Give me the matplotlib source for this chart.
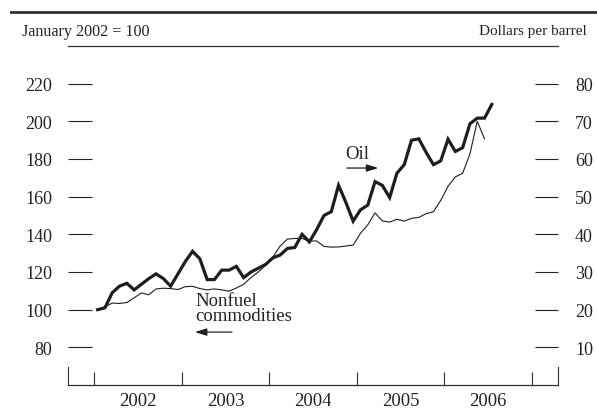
import numpy as np
import matplotlib
matplotlib.use("Agg")
import matplotlib.pyplot as plt
from matplotlib.lines import Line2D

plt.rcParams['font.family'] = ['Liberation Serif', 'DejaVu Serif']

# ---- data (monthly, starting January 2002) ----
start_year = 2002
oil_usd = [20.0, 20.5, 24.5, 26.25, 27.0, 25.25, 26.75, 28.25, 29.5, 28.25,
           26.25, 29.5, 32.75, 35.5, 33.5, 28.0, 28.0, 30.5, 30.5, 31.5,
           28.5, 30.0, 31.0, 32.0, 33.75, 34.5, 36.25, 36.5, 40.0, 38.0,
           41.25, 45.0, 46.0, 53.0, 48.5, 43.5, 46.5, 47.75, 54.0, 53.0,
           49.75, 56.25, 58.5, 65.0, 65.35, 61.75, 58.5, 59.5, 65.25, 62.0,
           63.0, 69.35, 70.85, 70.85, 74.5]
nonfuel_index = [100.0, 101.5, 103.5, 103.3, 103.8, 106.3, 108.9, 107.9, 111.0, 111.4,
                 111.2, 110.7, 112.2, 112.4, 111.2, 110.5, 111.0, 110.5, 109.8, 111.5,
                 113.5, 117.0, 120.0, 123.5, 128.0, 133.8, 137.5, 137.8, 137.8, 136.4,
                 136.5, 133.6, 133.2, 133.3, 133.8, 134.3, 140.5, 145.0, 151.4, 147.1,
                 146.5, 148.0, 147.0, 148.5, 149.0, 151.0, 152.0, 158.0, 165.5, 170.5,
                 172.4, 182.7, 200.0, 190.7]
left_ticks = [80, 100, 120, 140, 160, 180, 200, 220]
right_ticks = [10, 20, 30, 40, 50, 60, 70, 80]
year_labels = ['2002', '2003', '2004', '2005', '2006']
year_bounds = [2002, 2003, 2004, 2005, 2006, 2007]

x_oil = start_year + (np.arange(len(oil_usd)) + 0.5) / 12.0
x_nf = start_year + (np.arange(len(nonfuel_index)) + 0.5) / 12.0

INK = '#1e1e1e'
TXT = '#222222'

fig = plt.figure(figsize=(5.97, 4.10), dpi=100)
ax = fig.add_axes([68 / 597, 1 - 386 / 410, 490 / 597, 339 / 410])
ax2 = ax.twinx()

xmin, xmax = 2001.703, 2007.297
ax.set_xlim(xmin, xmax)
ax.set_ylim(60, 240)
ax2.set_ylim(0, 90)

ax.plot(x_nf, nonfuel_index, color=INK, lw=0.8, solid_joinstyle='miter')
ax2.plot(x_oil, oil_usd, color=INK, lw=2.3, solid_joinstyle='miter')

# spines
for s in ['left', 'right']:
    ax.spines[s].set_visible(False)
for s in ax2.spines.values():
    s.set_visible(False)
ax.spines['top'].set_linewidth(0.9)
ax.spines['top'].set_color('#333333')
ax.spines['bottom'].set_linewidth(0.9)
ax.spines['bottom'].set_color('#333333')

# y ticks
ax.set_yticks(left_ticks)
ax.set_yticklabels([str(t) for t in left_ticks])
ax.tick_params(axis='y', direction='in', length=17.3, width=0.8, pad=11.5,
               labelsize=13, colors=TXT, left=True, right=False)
ax2.set_yticks(right_ticks)
ax2.set_yticklabels([str(t) for t in right_ticks])
ax2.tick_params(axis='y', direction='in', length=16.6, width=0.8, pad=12.2,
                labelsize=13, colors=TXT, right=True, left=False)

# x ticks: year boundaries (major, unlabeled) and mid-year labels (minor)
ax.set_xticks(year_bounds)
ax.set_xticklabels([''] * len(year_bounds))
ax.set_xticks([int(y) + 0.5 for y in year_labels], minor=True)
ax.set_xticklabels(year_labels, minor=True)
ax.tick_params(axis='x', which='major', direction='in', length=9.4, width=0.8,
               colors='#333333', top=False)
ax.tick_params(axis='x', which='minor', length=0, pad=5, labelsize=13.5,
               labelcolor=TXT, top=False)
for xe in (xmin, xmax):
    ax.axvline(xe, ymin=0, ymax=18 / 339, color='#333333', lw=0.8, clip_on=False)

# annotations
ax.text(2005.0, 182.7, 'Oil', ha='center', va='center', fontsize=13.5, color=TXT)
ax.annotate('', xy=(2005.245, 175.2), xytext=(2004.885, 175.2),
            arrowprops=dict(arrowstyle='-|>,head_length=0.7,head_width=0.22',
                            color=INK, lw=0.9, shrinkA=0, shrinkB=0))
ax.text(2003.153, 101.0, 'Nonfuel\ncommodities', ha='left', va='center',
        fontsize=13.5, color=TXT, linespacing=0.88)
ax.annotate('', xy=(2003.153, 88.1), xytext=(2003.575, 88.1),
            arrowprops=dict(arrowstyle='-|>,head_length=0.7,head_width=0.22',
                            color=INK, lw=0.9, shrinkA=0, shrinkB=0))

# header
fig.add_artist(Line2D([11 / 597, 1.0], [1 - 13 / 410] * 2, color='#333333', lw=2.0))
fig.text(22 / 597, 1 - 32 / 410, 'January 2002 = 100', ha='left', va='center',
         fontsize=11.6, color=TXT)
fig.text(587 / 597, 1 - 32 / 410, 'Dollars per barrel', ha='right', va='center',
         fontsize=11.0, color=TXT)

fig.savefig('out.png', dpi=100)
